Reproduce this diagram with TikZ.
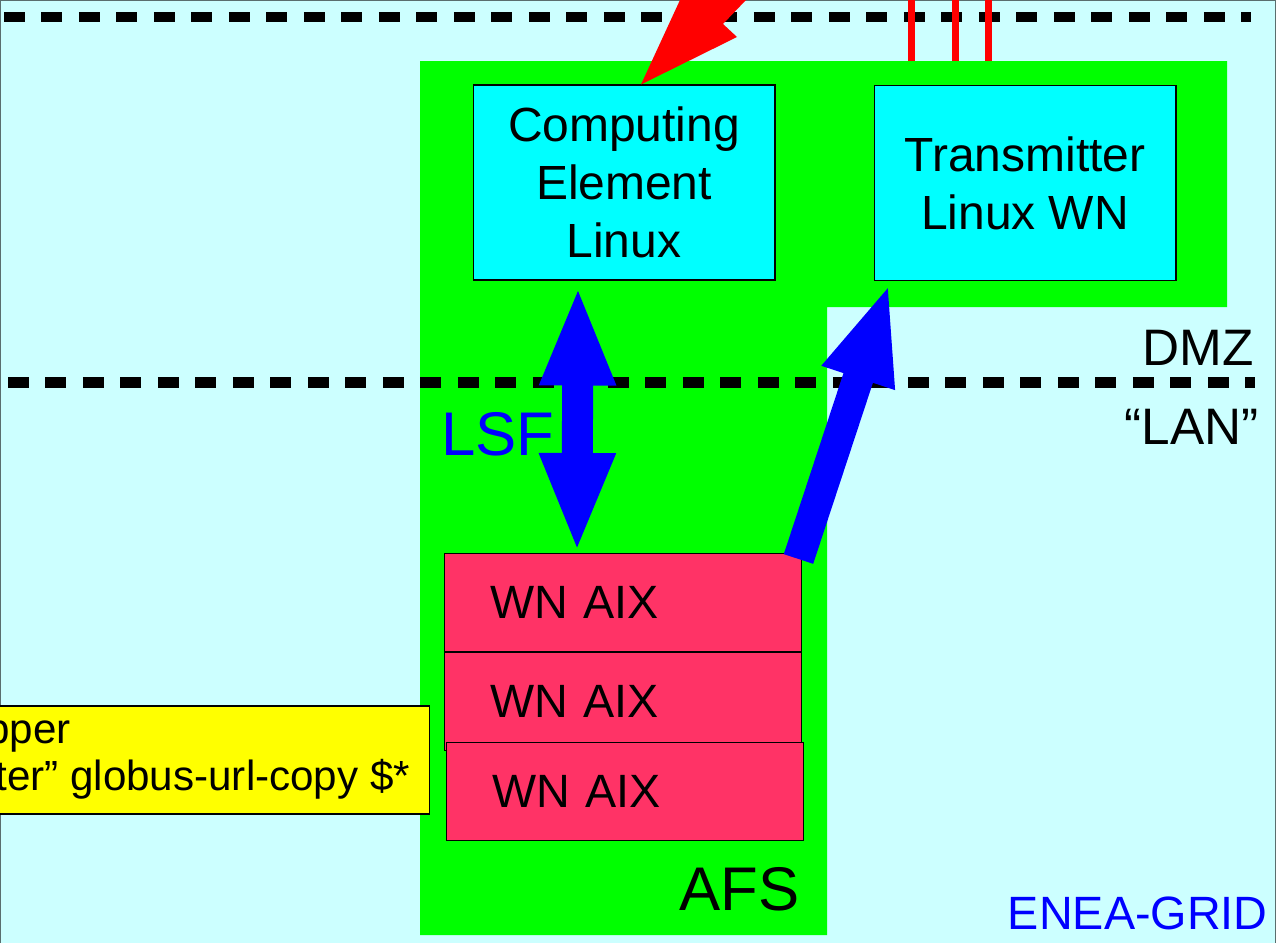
\documentclass[tikz,border=0pt]{standalone}
\usepackage{fontspec}
\setmainfont{Liberation Sans}
\usetikzlibrary{positioning,arrows.meta,calc}
\definecolor{gridbg}{RGB}{204,255,255}
\definecolor{gridgreen}{RGB}{0,255,0}
\definecolor{gridcyan}{RGB}{0,255,255}
\definecolor{gridpink}{RGB}{255,51,102}
\definecolor{gridyellow}{RGB}{255,255,0}
\definecolor{gridblue}{RGB}{0,0,255}
\definecolor{gridred}{RGB}{255,0,0}
\definecolor{gridedge}{RGB}{90,110,110}
\tikzset{
  host/.style={draw, line width=0.6pt, fill=gridcyan, align=center, inner sep=0pt, minimum width=6.04cm, minimum height=3.9cm, font=\fontsize{27.3}{33}\selectfont},
  wn/.style={draw, line width=0.6pt, fill=gridpink, align=left, inner ysep=0pt, inner xsep=0.92cm, text width=5.32cm, minimum height=1.96cm, font=\fontsize{26.6}{32}\selectfont},
  note/.style={draw, line width=0.6pt, fill=gridyellow, inner sep=0pt},
  notetext/.style={inner sep=0pt, anchor=base west, font=\fontsize{24}{28}\selectfont},
  zone/.style={inner sep=0pt, font=\fontsize{29.2}{34}\selectfont},
  bigtag/.style={inner sep=0pt, font=\fontsize{35.1}{40}\selectfont},
  fence/.style={line width=0.22cm, dash pattern=on 0.42cm off 0.33cm},
  wan/.style={gridred, line width=0.14cm},
  bigarrow/.style={gridblue, line width=0.62cm, -{Triangle[length=2cm,width=1.38cm]}}
}

\begin{document}
\begin{tikzpicture}[x=0.02cm, y=-0.02cm]
    \useasboundingbox (0,0) rectangle (1276,943);
    \fill[gridbg] (0,0) rectangle (1276,943);
    \draw[gridedge, line width=0.6pt] (0.5,943) -- (0.5,0.5) -- (1275.5,0.5) -- (1275.5,943);
    % internet / DMZ border
    \draw[fence] (4,17) -- (1251,17);
    % DMZ + AFS area
    \fill[gridgreen] (420,61) -- (1227,61) -- (1227,307) -- (827,307) -- (827,935) -- (420,935) -- cycle;
    \coordinate (dmztop) at (420,61);
    \node[host] (ce) at (624,182.5) {Computing\\Element\\Linux};
    \node[host] (tx) at (1025,183) {Transmitter\\Linux WN};
    \node[wn] (wn1) at (623,602.5) {WN AIX};
    \node[wn, below=0pt of wn1] (wn2) {WN AIX};
    \node[wn] (wn3) at (625,791.5) {WN AIX};
    % wrapper note
    \node[note, minimum width=9cm, minimum height=2.16cm, anchor=east] (wrapper) at (430,760) {};
    \node[notetext] (wrap1) at (-14,743) {pper};
    \node[notetext] (wrap2) at (-5,790) {ter” globus-url-copy \$*};
    % DMZ / LAN border
    \draw[fence] (8,382) -- (1255,382);
    \draw[bigarrow, {Triangle[length=2cm,width=1.38cm]}-{Triangle[length=2cm,width=1.38cm]}] ($(ce.south)+(-46,5)$) -- ($(wn1.north)+(-46,0)$);
    \draw[bigarrow] ($(wn1.north east)+(-4,6)$) -- ($(tx.south west)+(16,2)$);
    % grid job coming in
    \fill[gridred] ($(ce.north)+(17,0)$) -- (680,0) -- (746,0) -- (723,24) -- (737,37) -- cycle;
    \foreach \x/\i in {911.5/1, 955.5/2, 988.5/3} {
      \coordinate (wan\i) at (\x,0);
      \draw[wan] (wan\i) -- (wan\i |- dmztop);
    }
    \node[bigtag, gridblue, anchor=base west] (lsf) at (441,455) {LSF};
    \node[bigtag, anchor=base west] (afs) at (679,910) {AFS};
    \node[zone, anchor=base east] (dmz) at (1254,365) {DMZ};
    \node[zone, anchor=base east] (lan) at (1259,444) {“LAN”};
    \node[zone, gridblue, anchor=base east, font=\fontsize{26.6}{32}\selectfont] (grid) at (1268,929) {ENEA-GRID};
\end{tikzpicture}
\end{document}
